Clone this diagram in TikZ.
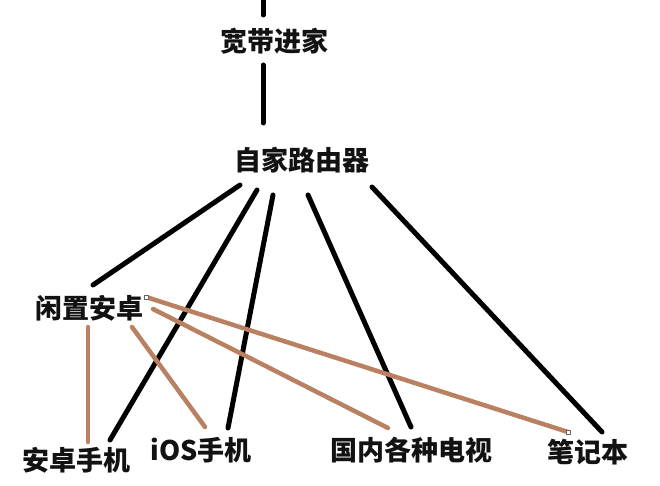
\documentclass[tikz,border=0pt]{standalone}
\usepackage{fontspec}
\newfontfamily\cjk{Noto Sans CJK SC}
\usepackage{tikz}
\usetikzlibrary{calc}
\definecolor{cordbrown}{RGB}{185,128,98}

\begin{document}
\begin{tikzpicture}[
  x=1pt, y=-1pt,
  lbl/.style={inner sep=0pt, font=\cjk\bfseries\fontsize{27}{27}\selectfont, text=black!93},
  wire/.style={draw=black, line width=5pt, line cap=round},
  cord/.style={draw=cordbrown, line width=4.5pt, line cap=round},
  handle/.style={draw=black!60, fill=white, line width=0.7pt, minimum size=4pt, inner sep=0pt}
  ]
  \useasboundingbox (0,0) rectangle (660,486);
  % labels
  \node[lbl] (kuandai) at (274,41) {宽带进家};
  \node[lbl] (router) at (302,160) {自家路由器};
  \node[lbl] (xianzhi) at (89,308) {闲置安卓};
  \node[lbl] (anzhuo) at (76,460) {安卓手机};
  \node[lbl] (ios) at (201,450) {iOS手机};
  \node[lbl] (tv) at (411,450) {国内各种电视};
  \node[lbl] (laptop) at (588,452) {笔记本};
  \coordinate (top) at (263,0);
  % black wires
  \draw[wire] (top) -- ($(kuandai)+(-11,-26)$);
  \draw[wire] ($(kuandai)+(-11,24)$) -- ($(router)+(-39,-37)$);
  \draw[wire] ($(router)+(-62,25)$) -- ($(xianzhi)+(4,-23)$);
  \draw[wire] ($(router)+(-45,30)$) -- ($(anzhuo)+(34,-20)$);
  \draw[wire] ($(router)+(-29,35)$) -- ($(ios)+(27,-22)$);
  \draw[wire] ($(router)+(6,35)$) -- ($(tv)+(0,-23)$);
  \draw[wire] ($(router)+(70,27)$) -- ($(laptop)+(14,-20)$);
  % brown wires from the spare phone
  \draw[cord] ($(xianzhi)+(-1,19)$) -- ($(anzhuo)+(12,-18)$);
  \draw[cord] ($(xianzhi)+(43,19)$) -- ($(ios)+(4,-23)$);
  \draw[cord] ($(xianzhi)+(64,1)$) -- ($(tv)+(-23,-22)$);
  \draw[cord] ($(xianzhi)+(57,-11)$) coordinate (hA) -- ($(laptop)+(-20,-20)$) coordinate (hB);
  \node[handle] at (hA) {};
  \node[handle] at (hB) {};
\end{tikzpicture}
\end{document}
